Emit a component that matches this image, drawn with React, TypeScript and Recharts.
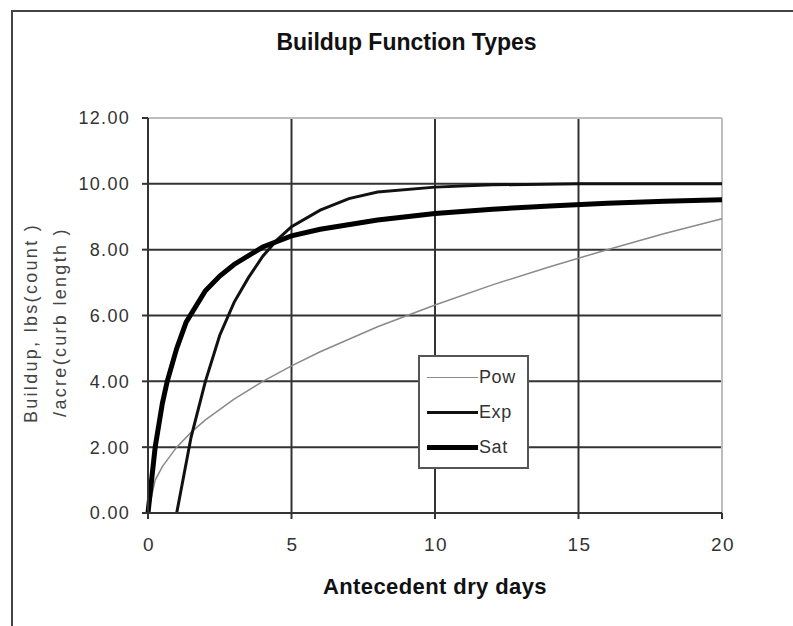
import { LineChart, Line, XAxis, YAxis, CartesianGrid, Legend, ReferenceLine } from 'recharts';

// Pow: thin grey curve
const powDays = [0, 0.25, 0.5, 1, 1.5, 2, 3, 4, 5, 6, 8, 10, 12, 14, 16, 18, 20];
const powValues = [0, 1.0, 1.41, 2.0, 2.45, 2.83, 3.46, 4.0, 4.47, 4.9, 5.66, 6.32, 6.93, 7.48, 8.0, 8.49, 8.94];

// Exp: starts at day 1, levels off at 10
const expDays = [1, 1.5, 2, 2.5, 3, 3.5, 4, 4.5, 5, 6, 7, 8, 10, 12, 15, 20];
const expValues = [0, 2.3, 4.0, 5.4, 6.4, 7.15, 7.8, 8.3, 8.7, 9.2, 9.55, 9.75, 9.9, 9.97, 10, 10];

// Sat: thick black curve
const satDays = [0, 0.25, 0.5, 0.67, 1, 1.33, 2, 2.5, 3, 4, 5, 6, 8, 10, 12, 14, 16, 18, 20];
const satValues = [0, 2.0, 3.33, 4.0, 5.0, 5.8, 6.75, 7.2, 7.55, 8.08, 8.42, 8.62, 8.9, 9.1, 9.23, 9.33, 9.41, 9.47, 9.52];

const xTicks = [0, 5, 10, 15, 20];
const yTicks = [0, 2, 4, 6, 8, 10, 12];

const toRows = (days: number[], values: number[]) => days.map((t, i) => ({ t, v: values[i] }));

const legendItems = [
  { name: 'Pow', color: '#8a8a8a', width: 1.5 },
  { name: 'Exp', color: '#111', width: 3 },
  { name: 'Sat', color: '#000', width: 5 },
];

const FONT = '"Liberation Sans", Arial, sans-serif';

function LegendBox() {
  return (
    <div style={{ width: 111, height: 114, border: '2px solid #555', background: '#fff', boxSizing: 'border-box', paddingTop: 3 }}>
      {legendItems.map((it) => (
        <div key={it.name} style={{ display: 'flex', alignItems: 'center', height: 35 }}>
          <div style={{ marginLeft: 7, width: 51, height: it.width, background: it.color }} />
          <span style={{ marginLeft: 1, fontFamily: FONT, fontSize: 18, letterSpacing: 0.6, color: '#333' }}>{it.name}</span>
        </div>
      ))}
    </div>
  );
}

const yLabelStyle = {
  position: 'absolute' as const,
  transform: 'translate(-50%, -50%) rotate(-90deg)',
  whiteSpace: 'nowrap' as const,
  fontFamily: FONT,
  fontSize: 18,
  letterSpacing: 2.3,
  color: '#444',
};

export default function App() {
  return (
    <div style={{ position: 'absolute', left: 0, top: 0, width: 793, height: 626, overflow: 'hidden', background: '#fff' }}>
      <div style={{ position: 'absolute', left: 11, top: 10, width: 820, height: 660, border: '2px solid #444' }} />
      <div style={{ position: 'absolute', left: 0, top: 0 }}>
        <LineChart width={793} height={626} margin={{ top: 118, right: 71, bottom: 83, left: 88 }}>
          <CartesianGrid stroke="#333" strokeWidth={2} />
          <XAxis
            type="number"
            dataKey="t"
            domain={[0, 20]}
            ticks={xTicks}
            height={30}
            allowDuplicatedCategory={false}
            stroke="#333"
            strokeWidth={2}
            tickSize={6}
            tick={{ fill: '#333', fontSize: 19, fontFamily: FONT, letterSpacing: 1.5, dy: 17, dx: 1 }}
          />
          <YAxis
            type="number"
            domain={[0, 12]}
            ticks={yTicks}
            width={60}
            stroke="#333"
            strokeWidth={2}
            tickSize={6}
            tickFormatter={(v: number) => v.toFixed(2)}
            tick={{ fill: '#333', fontSize: 18, fontFamily: FONT, letterSpacing: 1.3, dx: -10 }}
          />
          <ReferenceLine y={12} stroke="#bdbdbd" strokeWidth={2} />
          <ReferenceLine x={20} stroke="#bdbdbd" strokeWidth={2} />
          <Line data={toRows(powDays, powValues)} dataKey="v" name="Pow" type="linear" stroke="#8a8a8a" strokeWidth={1.5} dot={false} isAnimationActive={false} />
          <Line data={toRows(expDays, expValues)} dataKey="v" name="Exp" type="linear" stroke="#111" strokeWidth={3} dot={false} isAnimationActive={false} />
          <Line data={toRows(satDays, satValues)} dataKey="v" name="Sat" type="linear" stroke="#000" strokeWidth={5} dot={false} isAnimationActive={false} />
          <Legend
            layout="vertical"
            align="center"
            verticalAlign="middle"
            content={() => <LegendBox />}
            wrapperStyle={{ position: 'absolute', left: 418, top: 355, width: 111, height: 114 }}
          />
        </LineChart>
      </div>
      <div style={{ position: 'absolute', left: 0, width: 813, top: 29, textAlign: 'center', fontFamily: FONT, fontWeight: 'bold', fontSize: 23, color: '#111' }}>
        Buildup Function Types
      </div>
      <div style={{ position: 'absolute', left: 148, width: 574, top: 574, textAlign: 'center', fontFamily: FONT, fontWeight: 'bold', fontSize: 22, letterSpacing: 0.4, color: '#111' }}>
        Antecedent dry days
      </div>
      <div style={{ position: 'absolute', left: 31, top: 323, width: 0, height: 0 }}>
        <div style={yLabelStyle}>Buildup, lbs(count )</div>
      </div>
      <div style={{ position: 'absolute', left: 60, top: 322, width: 0, height: 0 }}>
        <div style={yLabelStyle}>/acre(curb length )</div>
      </div>
    </div>
  );
}
